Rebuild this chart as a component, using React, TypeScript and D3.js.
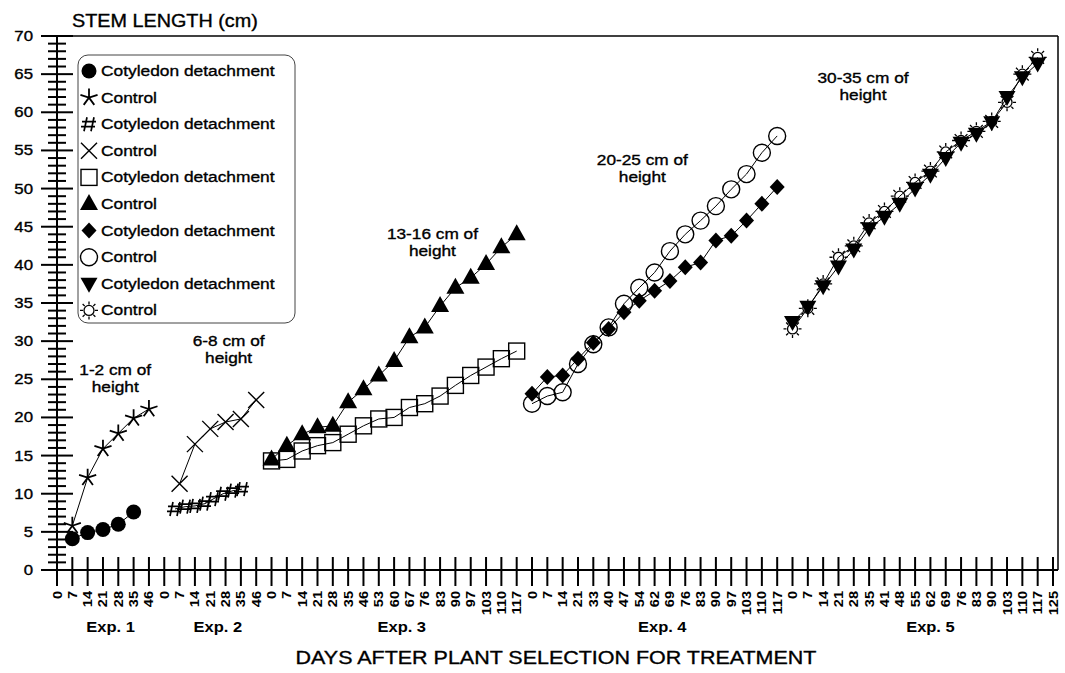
import React, { useEffect, useRef } from "react";
import * as d3 from "d3";

// tick labels (days) for each experiment, in axis order
const exp1Days = [0, 7, 14, 21, 28, 35, 46];
const exp2Days = [0, 7, 14, 21, 28, 35, 46];
const exp3Days = [0, 7, 14, 21, 28, 35, 46, 53, 60, 67, 76, 83, 90, 97, 103, 110, 117];
const exp4Days = [0, 7, 14, 21, 33, 40, 47, 54, 62, 69, 76, 83, 90, 97, 103, 110, 117];
const exp5Days = [0, 7, 14, 21, 28, 35, 41, 48, 55, 62, 69, 76, 83, 90, 103, 110, 117, 125];
const expNames = ["Exp. 1", "Exp. 2", "Exp. 3", "Exp. 4", "Exp. 5"];

// stem length (cm); slots = position within the experiment's ticks
const exp1DetSlots = [1, 2, 3, 4, 5];
const exp1Det = [4.1, 4.9, 5.3, 6.0, 7.6];
const exp1CtlSlots = [1, 2, 3, 4, 5, 6];
const exp1Ctl = [5.8, 12.1, 15.9, 17.9, 19.9, 21.1];

const exp2DetSlots = [0.7, 1.36, 2.01, 2.66, 3.18, 3.84, 4.49, 5.07];
const exp2Det = [8.0, 8.3, 8.4, 8.7, 9.3, 10.0, 10.4, 10.6];
const exp2CtlSlots = [1, 2, 3, 4, 5, 6];
const exp2Ctl = [11.3, 16.5, 18.5, 19.4, 19.8, 22.3];

const exp3Det = [14.3, 14.5, 15.6, 16.3, 16.7, 17.8, 18.9, 19.8, 20.0, 21.3, 21.8, 22.8, 24.2, 25.5, 26.6, 27.7, 28.7];
const exp3Ctl = [14.5, 16.3, 17.8, 18.7, 18.9, 22.0, 23.7, 25.5, 27.4, 30.5, 31.8, 34.6, 37.0, 38.3, 40.1, 42.3, 44.0];

const exp4Det = [23.1, 25.3, 25.5, 27.7, 29.8, 31.6, 33.8, 35.3, 36.6, 37.9, 39.7, 40.3, 43.2, 43.8, 45.8, 48.0, 50.2];
const exp4Ctl = [21.8, 22.8, 23.3, 27.0, 29.6, 31.8, 34.9, 37.0, 39.0, 41.8, 44.0, 45.8, 47.7, 49.9, 51.9, 54.7, 56.9];

const exp5Det = [32.5, 34.5, 37.2, 39.8, 42.0, 44.8, 46.3, 48.0, 50.0, 51.8, 54.0, 56.0, 57.2, 58.7, 62.0, 64.6, 66.4];
const exp5Ctl = [31.6, 34.3, 37.5, 41.0, 42.5, 45.5, 47.0, 49.0, 50.8, 52.3, 54.8, 56.3, 57.5, 58.8, 61.3, 65.0, 67.2];

const legendLabels = [
  "Cotyledon detachment", "Control",
  "Cotyledon detachment", "Control",
  "Cotyledon detachment", "Control",
  "Cotyledon detachment", "Control",
  "Cotyledon detachment", "Control",
];
const legendMarkers = ["dot", "star", "hash", "x", "square", "tri", "diamond", "ring", "triDown", "sun"];

const notes = [
  { lines: ["1-2 cm of", "height"], slot: 3.8, value: 25.6 },
  { lines: ["6-8 cm of", "height"], slot: 11.2, value: 29.4 },
  { lines: ["13-16 cm of", "height"], slot: 24.5, value: 43.4 },
  { lines: ["20-25 cm of", "height"], slot: 38.2, value: 53.1 },
  { lines: ["30-35 cm of", "height"], slot: 52.6, value: 63.8 },
];

const FONT = "'Liberation Sans', Arial, sans-serif";

// text slightly widened, like the scanned original
function addText(g: any, str: string | number, x: number, y: number, size: number, opts: any = {}) {
  const sx = opts.sx ?? 1.15;
  const t = g.append("text")
    .attr("transform", `translate(${x},${y})${opts.rotate ? " rotate(-90)" : ""} scale(${sx},1)`)
    .attr("text-anchor", opts.anchor ?? "start")
    .style("font", `${opts.bold ? "bold " : ""}${size}px ${FONT}`)
    .attr("fill", "#000")
    .text(str);
  if (!opts.bold) t.attr("stroke", "#000").attr("stroke-width", 0.35);
  return t;
}

function drawMarker(g: any, type: string, cx: number, cy: number) {
  const m = g.append("g").attr("transform", `translate(${cx},${cy})`);
  if (type === "dot") {
    m.append("circle").attr("r", 7.5).attr("fill", "#000");
  } else if (type === "star") {
    const arms = [-90, -18, 54, 126, 198]
      .map((a) => {
        const r = (a * Math.PI) / 180;
        return `M0,0L${(9 * Math.cos(r)).toFixed(2)},${(9 * Math.sin(r)).toFixed(2)}`;
      })
      .join("");
    m.append("path").attr("d", arms).attr("stroke", "#000").attr("stroke-width", 1.8).attr("fill", "none");
  } else if (type === "x") {
    m.append("path").attr("d", "M-8,-8L8,8M-8,8L8,-8").attr("stroke", "#000").attr("stroke-width", 1.4);
  } else if (type === "hash") {
    m.append("path")
      .attr("d", "M-2,-7L-5,7M5,-7L2,7M-7,-2.5L7,-2.5M-8,2.5L6,2.5")
      .attr("stroke", "#000").attr("stroke-width", 1.7);
  } else if (type === "square") {
    m.append("rect").attr("x", -8).attr("y", -8).attr("width", 16).attr("height", 16)
      .attr("fill", "none").attr("stroke", "#000").attr("stroke-width", 1.4);
  } else if (type === "tri") {
    m.append("path").attr("d", "M0,-10L9,6L-9,6Z").attr("fill", "#000");
  } else if (type === "diamond") {
    m.append("path").attr("d", "M0,-8L7.5,0L0,8L-7.5,0Z").attr("fill", "#000");
  } else if (type === "ring") {
    m.append("circle").attr("r", 8.5).attr("fill", "none").attr("stroke", "#000").attr("stroke-width", 1.4);
  } else if (type === "triDown") {
    m.append("path").attr("d", "M-8.5,-6L8.5,-6L0,9Z").attr("fill", "#000");
  } else if (type === "sun") {
    m.append("circle").attr("r", 5).attr("fill", "none").attr("stroke", "#000").attr("stroke-width", 1.3);
    const rays = d3.range(8)
      .map((i) => {
        const a = (i * Math.PI) / 4;
        return `M${(6 * Math.cos(a)).toFixed(2)},${(6 * Math.sin(a)).toFixed(2)}L${(9 * Math.cos(a)).toFixed(2)},${(9 * Math.sin(a)).toFixed(2)}`;
      })
      .join("");
    m.append("path").attr("d", rays).attr("stroke", "#000").attr("stroke-width", 1.3);
  }
}

export default function App() {
  const ref = useRef<SVGSVGElement>(null);

  useEffect(() => {
    const svg = d3.select(ref.current);
    svg.selectAll("*").remove();

    const allDays = [exp1Days, exp2Days, exp3Days, exp4Days, exp5Days];
    const starts: number[] = [];
    let acc = 0;
    allDays.forEach((d) => {
      starts.push(acc);
      acc += d.length;
    });
    const tickLabels = allDays.flat();
    const nTicks = tickLabels.length;

    const x = d3.scaleLinear().domain([0, nTicks - 1]).range([57, 1053]);
    const y = d3.scaleLinear().domain([0, 70]).range([570, 36]);
    const right = 1058;

    // frame
    svg.append("line").attr("x1", x(0)).attr("x2", right).attr("y1", y(70)).attr("y2", y(70))
      .attr("stroke", "#000").attr("stroke-width", 1.5);
    svg.append("line").attr("x1", right).attr("x2", right).attr("y1", y(70)).attr("y2", y(0))
      .attr("stroke", "#000").attr("stroke-width", 1.5);

    // y axis
    const yAxis = svg.append("g");
    yAxis.append("line").attr("x1", x(0)).attr("x2", x(0)).attr("y1", y(0)).attr("y2", y(70))
      .attr("stroke", "#000").attr("stroke-width", 2);
    d3.range(0, 71).forEach((v) => {
      const major = v % 5 === 0;
      yAxis.append("line")
        .attr("x1", x(0) - (major ? 16 : 9)).attr("x2", x(0) + (major ? 16 : 9))
        .attr("y1", y(v)).attr("y2", y(v))
        .attr("stroke", "#000").attr("stroke-width", 2);
    });
    d3.range(0, 71, 5).forEach((v) => {
      addText(yAxis, v, 33, y(v) + 5, 14, { anchor: "end", sx: 1.2 });
    });

    // x axis
    const xAxis = svg.append("g");
    xAxis.append("line").attr("x1", x(0)).attr("x2", right).attr("y1", y(0)).attr("y2", y(0))
      .attr("stroke", "#000").attr("stroke-width", 2);
    xAxis.selectAll("line.xtick").data(d3.range(nTicks)).join("line")
      .attr("class", "xtick")
      .attr("x1", (d) => x(d)).attr("x2", (d) => x(d))
      .attr("y1", y(0) - 13).attr("y2", y(0) + 16)
      .attr("stroke", "#000").attr("stroke-width", 2);
    d3.range(nTicks).forEach((d) => {
      addText(xAxis, tickLabels[d], x(d) + 4.5, 591, 13, { anchor: "end", bold: true, rotate: true, sx: 1.12 });
    });

    expNames.forEach((name, i) => {
      const c = starts[i] + (allDays[i].length - 1) / 2 + 0.5;
      addText(svg, name, x(c), 632, 15, { anchor: "middle", bold: true, sx: 1.1 });
    });

    // titles
    addText(svg, "STEM LENGTH (cm)", 72, 27, 18, { sx: 1.1 });
    addText(svg, "DAYS AFTER PLANT SELECTION FOR TREATMENT", 556, 664, 19, { anchor: "middle", sx: 1.13 });

    // series
    const seq = (n: number) => d3.range(n);
    const series = [
      { exp: 0, slots: exp1DetSlots, vals: exp1Det, marker: "dot" },
      { exp: 0, slots: exp1CtlSlots, vals: exp1Ctl, marker: "star" },
      { exp: 1, slots: exp2DetSlots, vals: exp2Det, marker: "hash" },
      { exp: 1, slots: exp2CtlSlots, vals: exp2Ctl, marker: "x" },
      { exp: 2, slots: seq(exp3Det.length), vals: exp3Det, marker: "square" },
      { exp: 2, slots: seq(exp3Ctl.length), vals: exp3Ctl, marker: "tri" },
      { exp: 3, slots: seq(exp4Det.length), vals: exp4Det, marker: "diamond" },
      { exp: 3, slots: seq(exp4Ctl.length), vals: exp4Ctl, marker: "ring" },
      { exp: 4, slots: seq(exp5Det.length), vals: exp5Det, marker: "triDown" },
      { exp: 4, slots: seq(exp5Ctl.length), vals: exp5Ctl, marker: "sun" },
    ];

    const line = d3.line<[number, number]>().x((d) => x(d[0])).y((d) => y(d[1]));
    const plot = svg.append("g");
    series.forEach((s) => {
      const pts: [number, number][] = s.vals.map((v, i) => [starts[s.exp] + s.slots[i], v]);
      plot.append("path").attr("d", line(pts))
        .attr("fill", "none").attr("stroke", "#000").attr("stroke-width", 1);
      pts.forEach((p) => drawMarker(plot, s.marker, x(p[0]), y(p[1])));
    });

    // annotations
    notes.forEach((n) => {
      n.lines.forEach((l, i) => {
        addText(svg, l, x(n.slot), y(n.value) + i * 17, 15, { anchor: "middle", sx: 1.15 });
      });
    });

    // legend
    const lg = svg.append("g");
    lg.append("rect").attr("x", 78).attr("y", 55).attr("width", 217).attr("height", 268)
      .attr("rx", 10).attr("fill", "#fff").attr("stroke", "#444").attr("stroke-width", 1);
    legendLabels.forEach((lab, i) => {
      const cy = 71 + i * 26.6;
      drawMarker(lg, legendMarkers[i], 89, cy);
      addText(lg, lab, 101, cy + 5, 15.5, { sx: 1.12 });
    });
  }, []);

  return (
    <svg
      ref={ref}
      width={1065}
      height={673}
      style={{ position: "absolute", left: 0, top: 0, background: "#fff" }}
    />
  );
}
